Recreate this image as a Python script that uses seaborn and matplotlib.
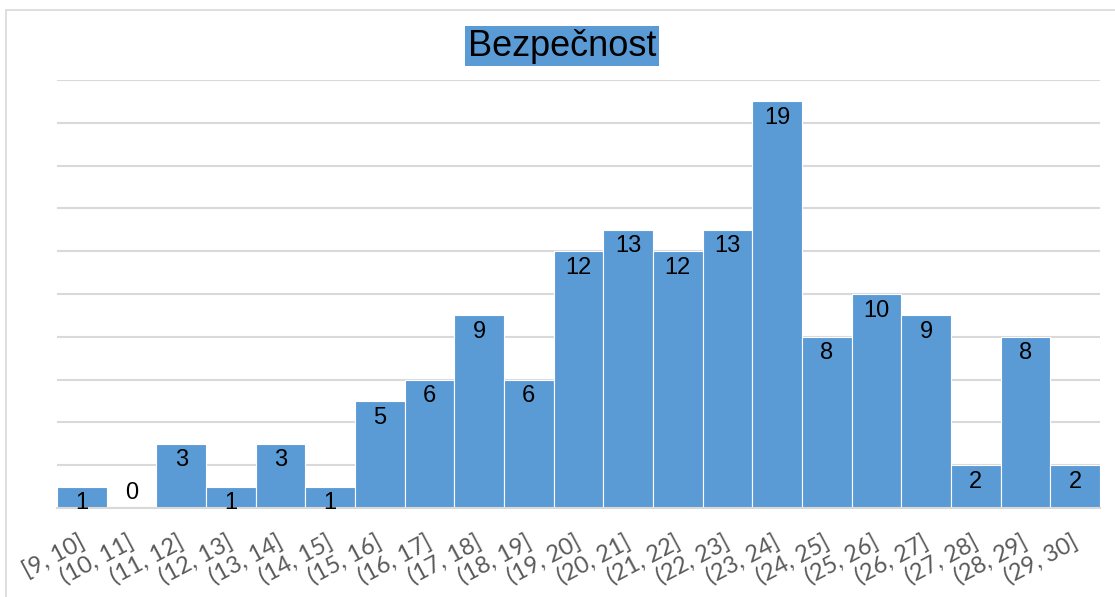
import matplotlib
matplotlib.use("Agg")
import matplotlib.pyplot as plt
import matplotlib.transforms as mtransforms
import pandas as pd
import seaborn as sns
from matplotlib.patches import Rectangle

bins = [
    "[9, 10]", "(10, 11]", "(11, 12]", "(12, 13]", "(13, 14]", "(14, 15]",
    "(15, 16]", "(16, 17]", "(17, 18]", "(18, 19]", "(19, 20]", "(20, 21]",
    "(21, 22]", "(22, 23]", "(23, 24]", "(24, 25]", "(25, 26]", "(26, 27]",
    "(27, 28]", "(28, 29]", "(29, 30]",
]
counts = [1, 0, 3, 1, 3, 1, 5, 6, 9, 6, 12, 13, 12, 13, 19, 8, 10, 9, 2, 8, 2]
title = "Bezpečnost"

bar_color = "#5B9BD5"
grid_color = "#D9D9D9"

sns.set_theme(style="white")
plt.rcParams["font.family"] = ["Liberation Sans", "DejaVu Sans"]

df = pd.DataFrame({"Bin": bins, "Count": counts})

fig = plt.figure(figsize=(11.15, 5.97), dpi=100)
ax = fig.add_axes([57 / 1115, 1 - 508 / 597, (1100 - 57) / 1115, (508 - 80) / 597])

sns.barplot(data=df, x="Bin", y="Count", color=bar_color, width=1.0,
            edgecolor="white", linewidth=0.8, saturation=1, ax=ax)

ax.set_xlim(-0.5, len(bins) - 0.5)
ax.set_ylim(0, 20)
ax.set_yticks(range(0, 21, 2))
ax.set_yticklabels([])
ax.yaxis.grid(True, color=grid_color, linewidth=1.5)
ax.set_axisbelow(True)
ax.tick_params(axis="both", length=0)
ax.set_xlabel("")
ax.set_ylabel("")
for side in ["top", "right", "left"]:
    ax.spines[side].set_visible(False)
ax.spines["bottom"].set_color(grid_color)
ax.spines["bottom"].set_linewidth(1.5)

ax.set_xticks(range(len(bins)))
ax.set_xticklabels(bins, rotation=28, ha="right", rotation_mode="anchor",
                   fontsize=17, color="#595959", family=["Lato", "DejaVu Sans"])
ax.tick_params(axis="x", pad=17)
shift = mtransforms.ScaledTranslation(-4 / 100, 0, fig.dpi_scale_trans)
for lbl in ax.get_xticklabels():
    lbl.set_transform(lbl.get_transform() + shift)

for i, v in enumerate(counts):
    if v > 0:
        ax.annotate(str(v), (i, v), xytext=(0, -4), textcoords="offset points",
                    ha="center", va="top", fontsize=17, color="black")
    else:
        ax.annotate(str(v), (i, v), xytext=(0, 3), textcoords="offset points",
                    ha="center", va="bottom", fontsize=17, color="black")

fig.text(562 / 1115, 1 - 46 / 597, title, ha="center", va="center", fontsize=26,
         color="black",
         bbox=dict(boxstyle="square,pad=0.08", facecolor=bar_color, edgecolor="none"))

fig.patches.append(Rectangle((6 / 1115, -0.01), 1.0, 1 - 10 / 597 + 0.01,
                             transform=fig.transFigure, fill=False,
                             edgecolor=grid_color, linewidth=1.2))

fig.savefig("out.png", dpi=100)
